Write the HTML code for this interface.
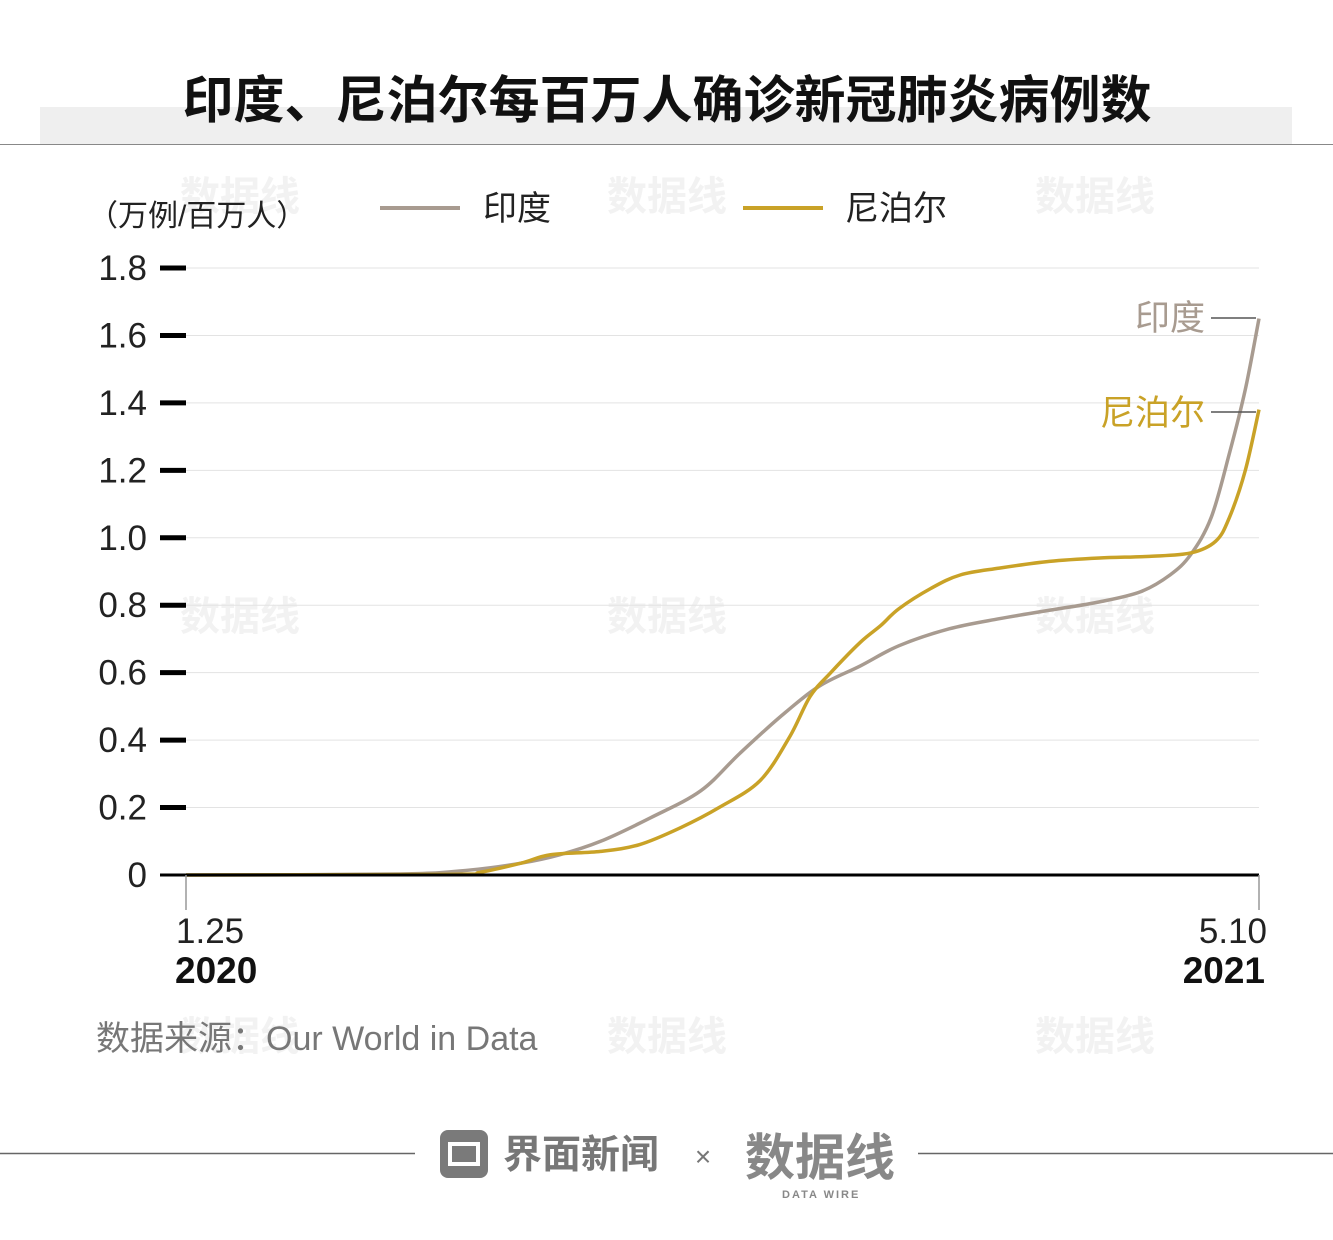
<!DOCTYPE html>
<html><head><meta charset="utf-8"><style>
body{margin:0;background:#fff;font-family:"Liberation Sans","Noto Sans CJK SC",sans-serif;}
svg{display:block}
</style></head><body>
<svg width="1333" height="1240" viewBox="0 0 1333 1240" xmlns="http://www.w3.org/2000/svg" font-family="Liberation Sans, Noto Sans CJK SC, sans-serif">
<rect x="40" y="107" width="1252" height="37" fill="#efefef"/>
<line x1="0" y1="144.5" x2="1333" y2="144.5" stroke="#888" stroke-width="1"/>
<text x="667" y="118" text-anchor="middle" font-size="51" font-weight="bold" fill="#111">印度、尼泊尔每百万人确诊新冠肺炎病例数</text>
<g fill="#e6e6e6" font-size="40" font-weight="bold" opacity="0.5">
<text x="180" y="210">数据线</text><text x="607" y="210">数据线</text><text x="1035" y="210">数据线</text>
<text x="180" y="630">数据线</text><text x="607" y="630">数据线</text><text x="1035" y="630">数据线</text>
<text x="180" y="1050">数据线</text><text x="607" y="1050">数据线</text><text x="1035" y="1050">数据线</text>
</g>
<text x="88" y="226" font-size="30" fill="#222">（万例/百万人）</text>
<g><line x1="380" y1="208" x2="460" y2="208" stroke="#a89b90" stroke-width="4"/><text x="483" y="220" font-size="34" fill="#222">印度</text></g>
<g><line x1="743" y1="208" x2="823" y2="208" stroke="#c9a227" stroke-width="4"/><text x="845" y="220" font-size="34" fill="#222">尼泊尔</text></g>
<g id="grid"></g><g id="yaxis"></g><g id="series"></g>
<line x1="160" y1="875" x2="1259" y2="875" stroke="#000" stroke-width="3"/>
<line x1="186" y1="875" x2="186" y2="910" stroke="#999" stroke-width="1.5"/>
<line x1="1259" y1="875" x2="1259" y2="910" stroke="#999" stroke-width="1.5"/>
<text x="176" y="943" font-size="35" fill="#222">1.25</text>
<text x="175" y="983" font-size="37" font-weight="bold" fill="#111">2020</text>
<text x="1267" y="943" font-size="35" fill="#222" text-anchor="end">5.10</text>
<text x="1265" y="983" font-size="37" font-weight="bold" fill="#111" text-anchor="end">2021</text>
<g><text x="1205" y="330" font-size="35" fill="#a89b90" text-anchor="end">印度</text><line x1="1211" y1="318" x2="1256" y2="318" stroke="#555" stroke-width="1.5"/></g>
<g><text x="1205" y="425" font-size="35" fill="#c9a227" text-anchor="end">尼泊尔</text><line x1="1211" y1="412" x2="1256" y2="412" stroke="#555" stroke-width="1.5"/></g>
<text x="96" y="1050" font-size="34" fill="#777">数据来源：Our World in Data</text>
<line x1="0" y1="1153.5" x2="415" y2="1153.5" stroke="#666" stroke-width="1.5"/>
<line x1="918" y1="1153.5" x2="1333" y2="1153.5" stroke="#666" stroke-width="1.5"/>
<g><rect x="440" y="1130" width="48" height="48" rx="8" fill="#7a7a7a"/><rect x="450" y="1144" width="28" height="20" fill="none" stroke="#fff" stroke-width="4"/><text x="503" y="1168" font-size="39" font-weight="bold" fill="#777">界面新闻</text></g>
<text x="703" y="1166" font-size="28" fill="#777" text-anchor="middle">×</text>
<g><text x="745" y="1175" font-size="50" font-weight="bold" fill="#888">数据线</text><text x="782" y="1198" font-size="11" font-weight="bold" fill="#888" letter-spacing="2">DATA WIRE</text></g>
</svg>
<script>
const yTicks=[0,0.2,0.4,0.6,0.8,1.0,1.2,1.4,1.6,1.8];
const yTickLabels=["0","0.2","0.4","0.6","0.8","1.0","1.2","1.4","1.6","1.8"];
const indiaDays=[0,94,125,147,164,182,204,226,243,261,278,296,313,335,357,379,401,419,432,441,450,458,465,471];
const indiaValues=[0,0.003,0.015,0.035,0.06,0.1,0.17,0.25,0.36,0.47,0.56,0.62,0.68,0.73,0.76,0.785,0.81,0.84,0.89,0.95,1.06,1.25,1.44,1.65];
const nepalDays=[0,116,129,147,160,182,199,217,234,252,265,274,283,296,305,313,327,340,357,379,401,423,441,452,458,465,471];
const nepalValues=[0,0.002,0.008,0.035,0.06,0.07,0.09,0.14,0.2,0.28,0.41,0.53,0.6,0.69,0.74,0.79,0.85,0.89,0.91,0.93,0.94,0.945,0.955,0.99,1.06,1.2,1.38];
const NS="http://www.w3.org/2000/svg";
const xS=d=>186+d/471*1073;
const yS=v=>875-v/1.8*607;
const grid=document.getElementById('grid'),yax=document.getElementById('yaxis'),ser=document.getElementById('series');
yTicks.forEach((t,i)=>{
 if(t>0){const g=document.createElementNS(NS,'line');
 g.setAttribute('x1',186);g.setAttribute('x2',1259);g.setAttribute('y1',yS(t));g.setAttribute('y2',yS(t));
 g.setAttribute('stroke','#e3e3e3');g.setAttribute('stroke-width','1');
 
 
 grid.appendChild(g);
 const tk=document.createElementNS(NS,'line');
 tk.setAttribute('x1',160);tk.setAttribute('x2',186);tk.setAttribute('y1',yS(t));tk.setAttribute('y2',yS(t));
 tk.setAttribute('stroke','#000');tk.setAttribute('stroke-width','5');
 
 
 yax.appendChild(tk);}
 const tx=document.createElementNS(NS,'text');
 tx.setAttribute('x',147);tx.setAttribute('y',yS(t)+12);tx.setAttribute('text-anchor','end');
 tx.setAttribute('font-size','35');tx.setAttribute('fill','#222');tx.textContent=yTickLabels[i];
 
 
 yax.appendChild(tx);
});
function path(days,vals,color,name){
 const p=days.map((d,i)=>[xS(d),yS(vals[i])]);
 let s='M'+p[0][0]+','+p[0][1];
 for(let i=0;i<p.length-1;i++){
  const p0=p[Math.max(0,i-1)],p1=p[i],p2=p[i+1],p3=p[Math.min(p.length-1,i+2)];
  const c1=[p1[0]+(p2[0]-p0[0])/6,p1[1]+(p2[1]-p0[1])/6];
  const c2=[p2[0]-(p3[0]-p1[0])/6,p2[1]-(p3[1]-p1[1])/6];
  s+=` C${c1[0]},${c1[1]} ${c2[0]},${c2[1]} ${p2[0]},${p2[1]}`;
 }
 const el=document.createElementNS(NS,'path');
 el.setAttribute('d',s);el.setAttribute('fill','none');el.setAttribute('stroke',color);el.setAttribute('stroke-width','3.5');
 
 
 ser.appendChild(el);
}
path(indiaDays,indiaValues,'#a89b90','india-line');
path(nepalDays,nepalValues,'#c9a227','nepal-line');
</script>
</body></html>
